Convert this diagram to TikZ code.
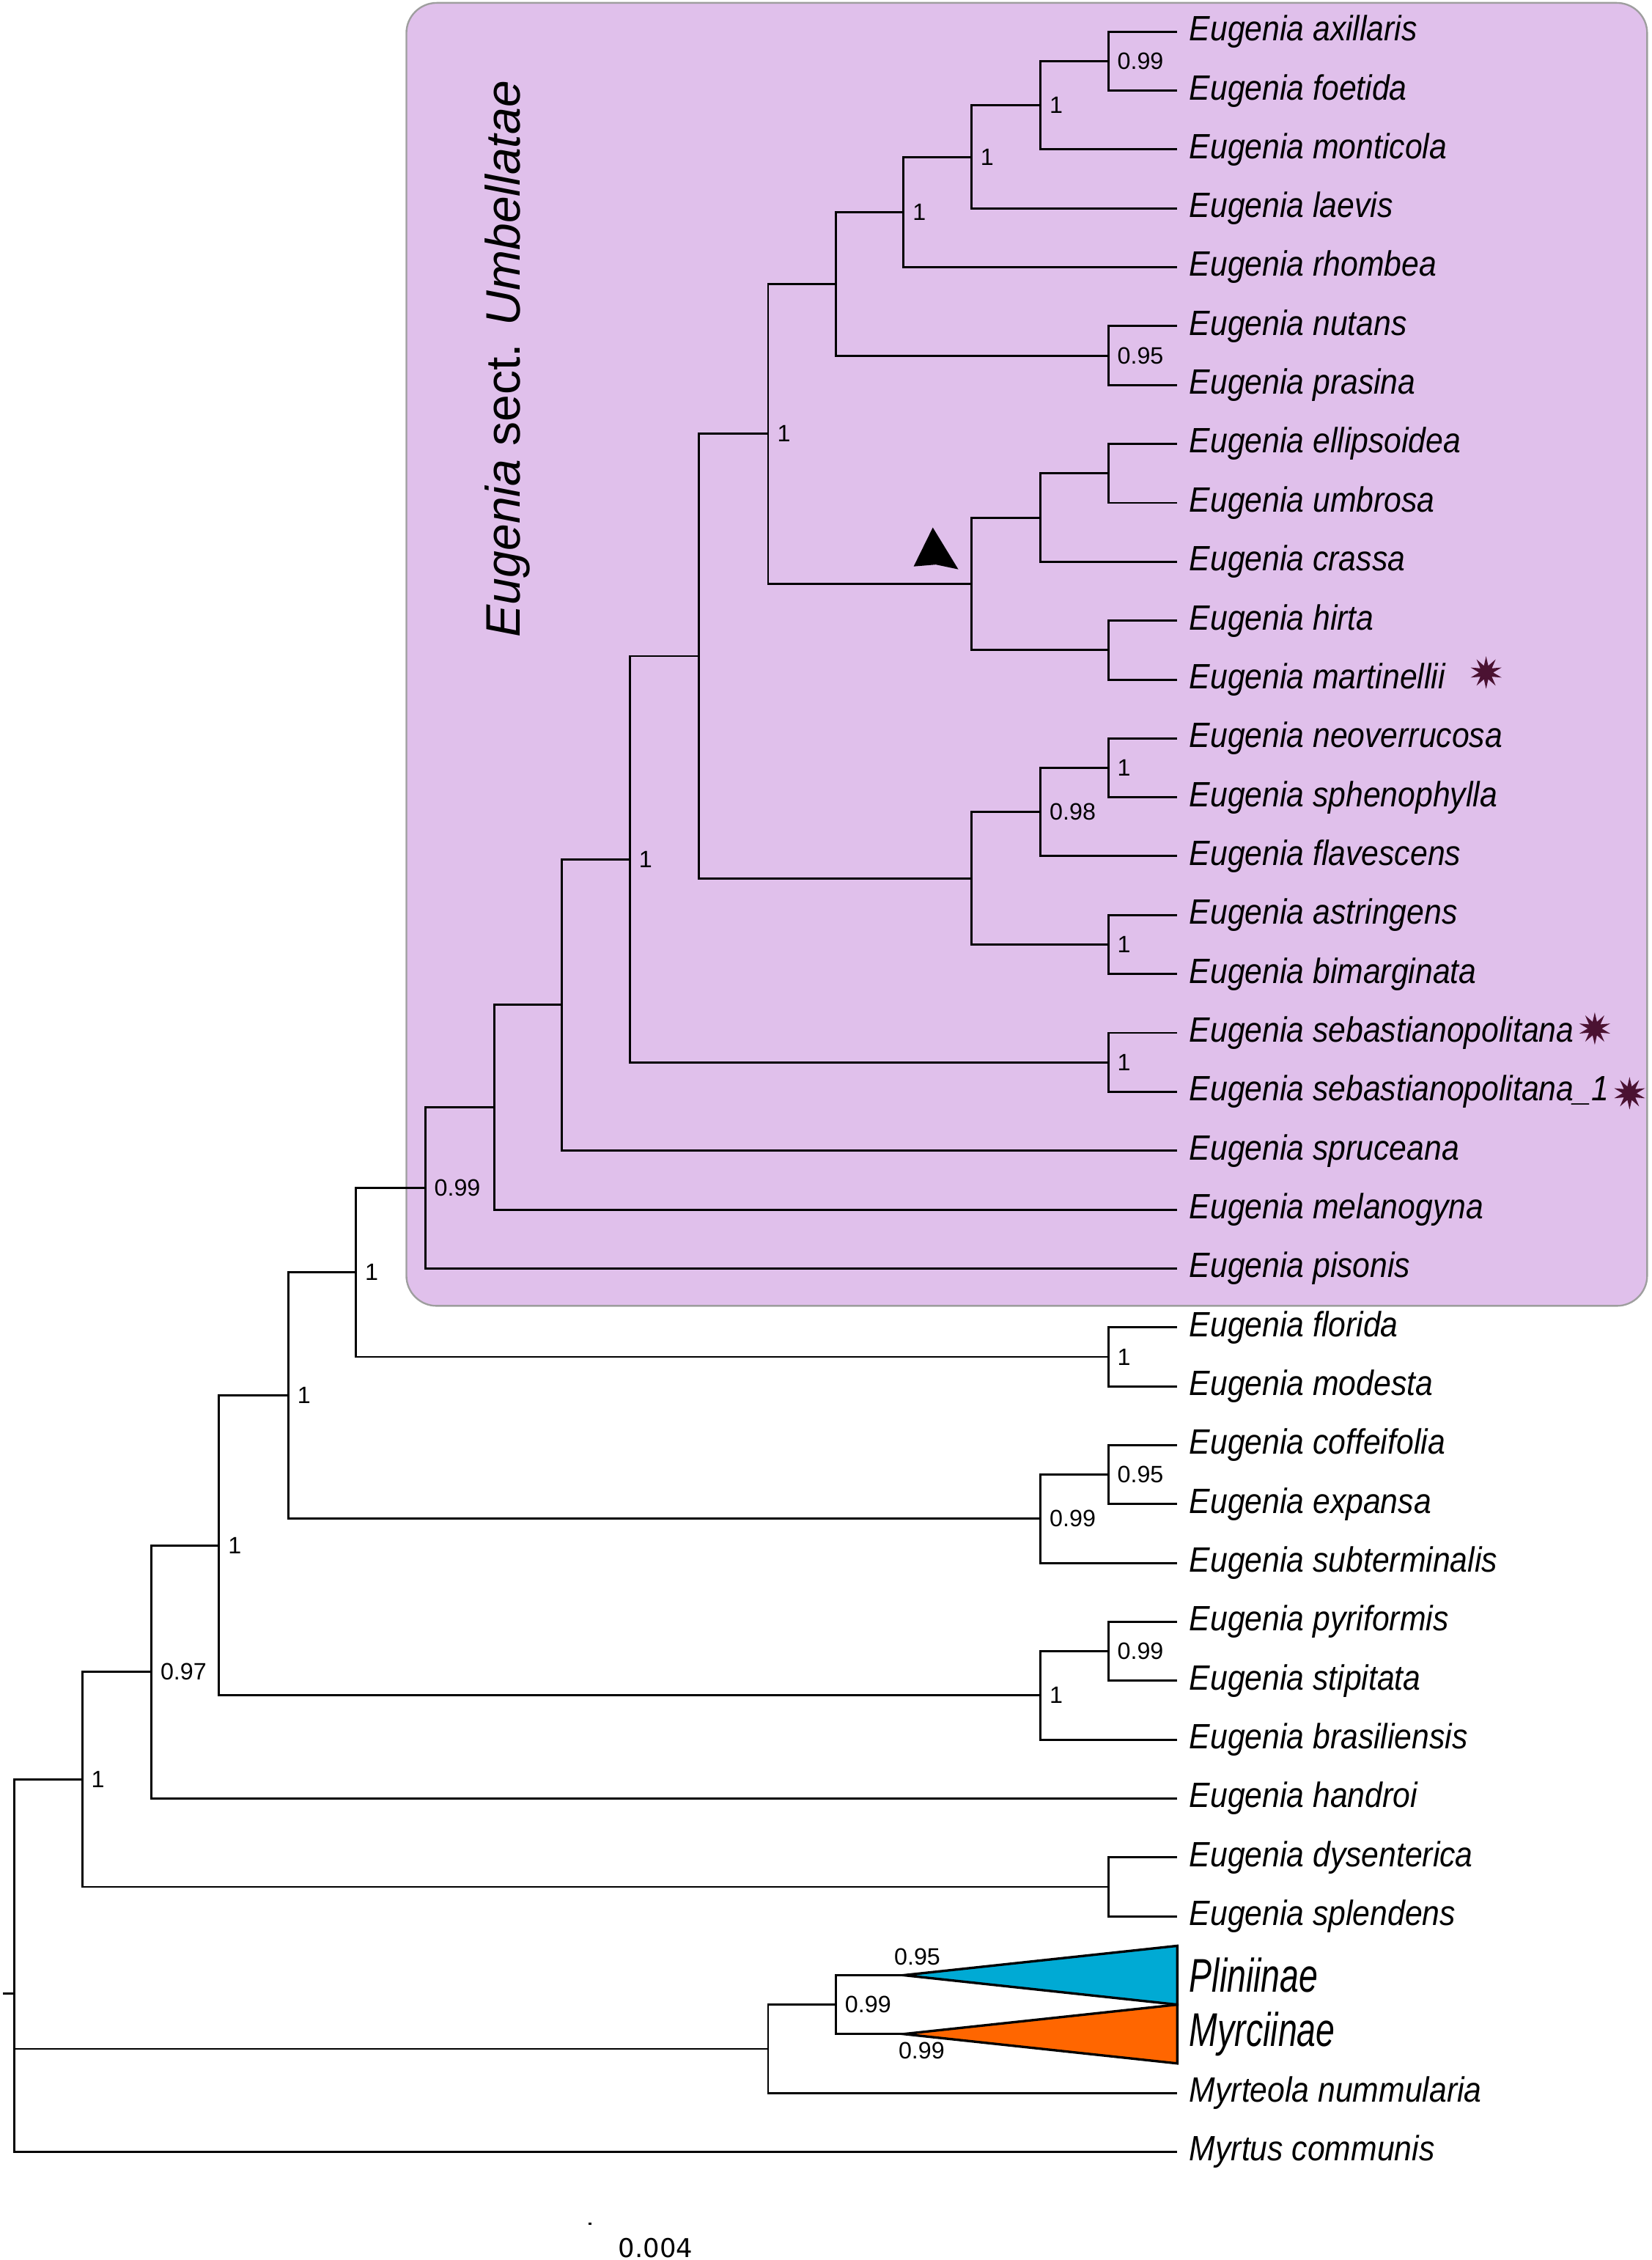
\documentclass[tikz,border=0pt]{standalone}
\usepackage{fontspec}
\setmainfont{Liberation Sans}
\newfontfamily\leaffont[FakeStretch=0.89]{Liberation Sans}
\newfontfamily\cladefont[FakeStretch=0.72]{Liberation Sans}
\newfontfamily\barfont{DejaVu Sans}
\usepackage{tikz}
\usetikzlibrary{positioning,shapes.geometric}
\definecolor{umbbox}{HTML}{E0C0EB}
\definecolor{umbedge}{HTML}{9E9E9E}
\definecolor{pliblue}{HTML}{00AAD4}
\definecolor{myrorange}{HTML}{FF6600}
\definecolor{voucher}{HTML}{4B1232}

\begin{document}
\begin{tikzpicture}[x=0.5pt, y=-0.5pt,
  leaf/.style={anchor=west, inner xsep=4pt, inner ysep=1pt, font=\leaffont\itshape\fontsize{12.2}{14}\selectfont},
  clade/.style={anchor=west, inner xsep=4pt, inner ysep=1pt, font=\cladefont\itshape\fontsize{16.4}{19}\selectfont},
  pp/.style={anchor=west, inner xsep=3pt, inner ysep=0.5pt, font=\fontsize{8.2}{9}\selectfont},
  br/.style={line width=0.75pt},
  tri/.style={line width=0.85pt, draw=black},
  starmark/.style={star, star points=10, star point ratio=2.3, minimum size=9.5pt, inner sep=0pt, fill=voucher, draw=voucher}]
\useasboundingbox (0,0) rectangle (1146,1568);

% sect. Umbellatae box
\draw[fill=umbbox, draw=umbedge, line width=0.6pt, rounded corners=10.5pt] (282,2) rectangle (1143,906);
\node[rotate=90, font=\fontsize{16.8}{19}\selectfont] (sect) at (352,249) {\textit{Eugenia} sect. \textit{Umbellatae}};

% tips
\node[leaf] (ax) at (817,22.0) {Eugenia axillaris};
\node[leaf] (fo) at (817,62.9) {Eugenia foetida};
\node[leaf] (mo) at (817,103.7) {Eugenia monticola};
\node[leaf] (la) at (817,144.6) {Eugenia laevis};
\node[leaf] (rh) at (817,185.4) {Eugenia rhombea};
\node[leaf] (nu) at (817,226.3) {Eugenia nutans};
\node[leaf] (pr) at (817,267.2) {Eugenia prasina};
\node[leaf] (el) at (817,308.0) {Eugenia ellipsoidea};
\node[leaf] (um) at (817,348.9) {Eugenia umbrosa};
\node[leaf] (cr) at (817,389.7) {Eugenia crassa};
\node[leaf] (hi) at (817,430.6) {Eugenia hirta};
\node[leaf] (ma) at (817,471.5) {Eugenia martinellii};
\node[leaf] (ne) at (817,512.3) {Eugenia neoverrucosa};
\node[leaf] (sp) at (817,553.2) {Eugenia sphenophylla};
\node[leaf] (fl) at (817,594.0) {Eugenia flavescens};
\node[leaf] (as) at (817,634.9) {Eugenia astringens};
\node[leaf] (bi) at (817,675.8) {Eugenia bimarginata};
\node[leaf] (se) at (817,716.6) {Eugenia sebastianopolitana};
\node[leaf] (seo) at (817,757.5) {Eugenia sebastianopolitana\_1};
\node[leaf] (sr) at (817,798.3) {Eugenia spruceana};
\node[leaf] (me) at (817,839.2) {Eugenia melanogyna};
\node[leaf] (pi) at (817,880.1) {Eugenia pisonis};
\node[leaf] (flo) at (817,920.9) {Eugenia florida};
\node[leaf] (mod) at (817,961.8) {Eugenia modesta};
\node[leaf] (cof) at (817,1002.6) {Eugenia coffeifolia};
\node[leaf] (exp) at (817,1043.5) {Eugenia expansa};
\node[leaf] (sub) at (817,1084.4) {Eugenia subterminalis};
\node[leaf] (pyr) at (817,1125.2) {Eugenia pyriformis};
\node[leaf] (sti) at (817,1166.1) {Eugenia stipitata};
\node[leaf] (bra) at (817,1206.9) {Eugenia brasiliensis};
\node[leaf] (han) at (817,1247.8) {Eugenia handroi};
\node[leaf] (dys) at (817,1288.7) {Eugenia dysenterica};
\node[leaf] (spl) at (817,1329.5) {Eugenia splendens};
\node[clade] (pli) at (817,1370.4) {Pliniinae};
\node[clade] (myr) at (817,1411.2) {Myrciinae};
\node[leaf] (myrt) at (817,1452.1) {Myrteola nummularia};
\node[leaf] (mcom) at (817,1493.0) {Myrtus communis};

% sequenced vouchers
\node[starmark, xshift=10pt, yshift=2.45pt] (vma) at (ma.east) {};
\node[starmark, xshift=3pt, yshift=1.5pt] (vse) at (se.east) {};
\node[starmark, xshift=3pt, yshift=-0.5pt] (vseo) at (seo.east) {};

% internal nodes
\coordinate (axfo) at (769,42.5);
\coordinate (axmo) at (722,73.1);
\coordinate (axla) at (674,108.9);
\coordinate (axrh) at (627,147.1);
\coordinate (nupr) at (769,246.8);
\coordinate (axpr) at (580,197.0);
\coordinate (elum) at (769,328.5);
\coordinate (elcr) at (722,359.1);
\coordinate (hima) at (769,451.0);
\coordinate (elma) at (674,405.1);
\coordinate (axma) at (533,301.0);
\coordinate (nesp) at (769,532.8);
\coordinate (nefl) at (722,563.4);
\coordinate (asbi) at (769,655.3);
\coordinate (nebi) at (674,609.4);
\coordinate (axbi) at (485,455.2);
\coordinate (seb) at (769,737.1);
\coordinate (axse) at (437,596.1);
\coordinate (axsr) at (390,697.2);
\coordinate (axme) at (343,768.2);
\coordinate (umb) at (295,824.1);
\coordinate (flmo) at (769,941.4);
\coordinate (umfl) at (247,882.8);
\coordinate (coex) at (769,1023.1);
\coordinate (cosu) at (722,1053.7);
\coordinate (umsu) at (200,968.3);
\coordinate (pyst) at (769,1145.7);
\coordinate (pybr) at (722,1176.3);
\coordinate (umbr) at (152,1072.3);
\coordinate (umha) at (105,1160.0);
\coordinate (dysp) at (769,1309.1);
\coordinate (eug) at (57,1234.6);
\coordinate (plA) at (627,1370.4);
\coordinate (myA) at (627,1411.2);
\coordinate (plmy) at (580,1390.8);
\coordinate (outg) at (533,1421.5);
\coordinate (root) at (10,1383.0);
\coordinate (rootstub) at (2,1383.0);

% branches
\draw[br] (axfo) |- (ax.west) (axfo) |- (fo.west);
\draw[br] (axmo) |- (axfo) (axmo) |- (mo.west);
\draw[br] (axla) |- (axmo) (axla) |- (la.west);
\draw[br] (axrh) |- (axla) (axrh) |- (rh.west);
\draw[br] (nupr) |- (nu.west) (nupr) |- (pr.west);
\draw[br] (axpr) |- (axrh) (axpr) |- (nupr);
\draw[br] (elum) |- (el.west) (elum) |- (um.west);
\draw[br] (elcr) |- (elum) (elcr) |- (cr.west);
\draw[br] (hima) |- (hi.west) (hima) |- (ma.west);
\draw[br] (elma) |- (elcr) (elma) |- (hima);
\draw[br] (axma) |- (axpr) (axma) |- (elma);
\draw[br] (nesp) |- (ne.west) (nesp) |- (sp.west);
\draw[br] (nefl) |- (nesp) (nefl) |- (fl.west);
\draw[br] (asbi) |- (as.west) (asbi) |- (bi.west);
\draw[br] (nebi) |- (nefl) (nebi) |- (asbi);
\draw[br] (axbi) |- (axma) (axbi) |- (nebi);
\draw[br] (seb) |- (se.west) (seb) |- (seo.west);
\draw[br] (axse) |- (axbi) (axse) |- (seb);
\draw[br] (axsr) |- (axse) (axsr) |- (sr.west);
\draw[br] (axme) |- (axsr) (axme) |- (me.west);
\draw[br] (umb) |- (axme) (umb) |- (pi.west);
\draw[br] (flmo) |- (flo.west) (flmo) |- (mod.west);
\draw[br] (umfl) |- (umb) (umfl) |- (flmo);
\draw[br] (coex) |- (cof.west) (coex) |- (exp.west);
\draw[br] (cosu) |- (coex) (cosu) |- (sub.west);
\draw[br] (umsu) |- (umfl) (umsu) |- (cosu);
\draw[br] (pyst) |- (pyr.west) (pyst) |- (sti.west);
\draw[br] (pybr) |- (pyst) (pybr) |- (bra.west);
\draw[br] (umbr) |- (umsu) (umbr) |- (pybr);
\draw[br] (umha) |- (umbr) (umha) |- (han.west);
\draw[br] (dysp) |- (dys.west) (dysp) |- (spl.west);
\draw[br] (eug) |- (umha) (eug) |- (dysp);
\draw[br] (plmy) |- (plA) (plmy) |- (myA);
\draw[br] (outg) |- (plmy) (outg) |- (myrt.west);
\draw[br] (root) |- (eug) (root) |- (outg) (root) |- (mcom.west);
\draw[br] (rootstub) -- (root);

% collapsed subtribes
\filldraw[tri, fill=pliblue] (plA) -- ([yshift=10.2pt]pli.west) -- ([yshift=-10.2pt]pli.west) -- cycle;
\filldraw[tri, fill=myrorange] (myA) -- ([yshift=10.2pt]myr.west) -- ([yshift=-10.2pt]myr.west) -- cycle;

% arrowhead
\fill (647.3,366) -- (634,393) -- (649.4,391.7) -- (665,395) -- cycle;

% posterior probabilities
\node[pp] (ppaxfo) at (axfo) {0.99};
\node[pp] (ppaxmo) at (axmo) {1};
\node[pp] (ppaxla) at (axla) {1};
\node[pp] (ppaxrh) at (axrh) {1};
\node[pp] (ppnupr) at (nupr) {0.95};
\node[pp] (ppaxma) at (axma) {1};
\node[pp] (ppnesp) at (nesp) {1};
\node[pp] (ppnefl) at (nefl) {0.98};
\node[pp] (ppasbi) at (asbi) {1};
\node[pp] (ppseb) at (seb) {1};
\node[pp] (ppaxse) at (axse) {1};
\node[pp] (ppumb) at (umb) {0.99};
\node[pp] (ppumfl) at (umfl) {1};
\node[pp] (ppflmo) at (flmo) {1};
\node[pp] (ppumsu) at (umsu) {1};
\node[pp] (ppcoex) at (coex) {0.95};
\node[pp] (ppcosu) at (cosu) {0.99};
\node[pp] (ppumbr) at (umbr) {1};
\node[pp] (pppyst) at (pyst) {0.99};
\node[pp] (pppybr) at (pybr) {1};
\node[pp] (ppumha) at (umha) {0.97};
\node[pp] (ppeug) at (eug) {1};
\node[pp] (ppplmy) at (plmy) {0.99};
\node[pp, anchor=south, above=2.7pt of plA, xshift=4.75pt] (pppli) {0.95};
\node[pp, anchor=north, below=2.1pt of myA, xshift=6.25pt] (ppmyr) {0.99};

% scale bar
\draw[br] (408.5,1542.8) -- (410.5,1542.8);
\node[font=\barfont\fontsize{9}{10}\selectfont, inner sep=0pt] (scalelab) at (455,1559.5) {0.004};
\end{tikzpicture}
\end{document}
